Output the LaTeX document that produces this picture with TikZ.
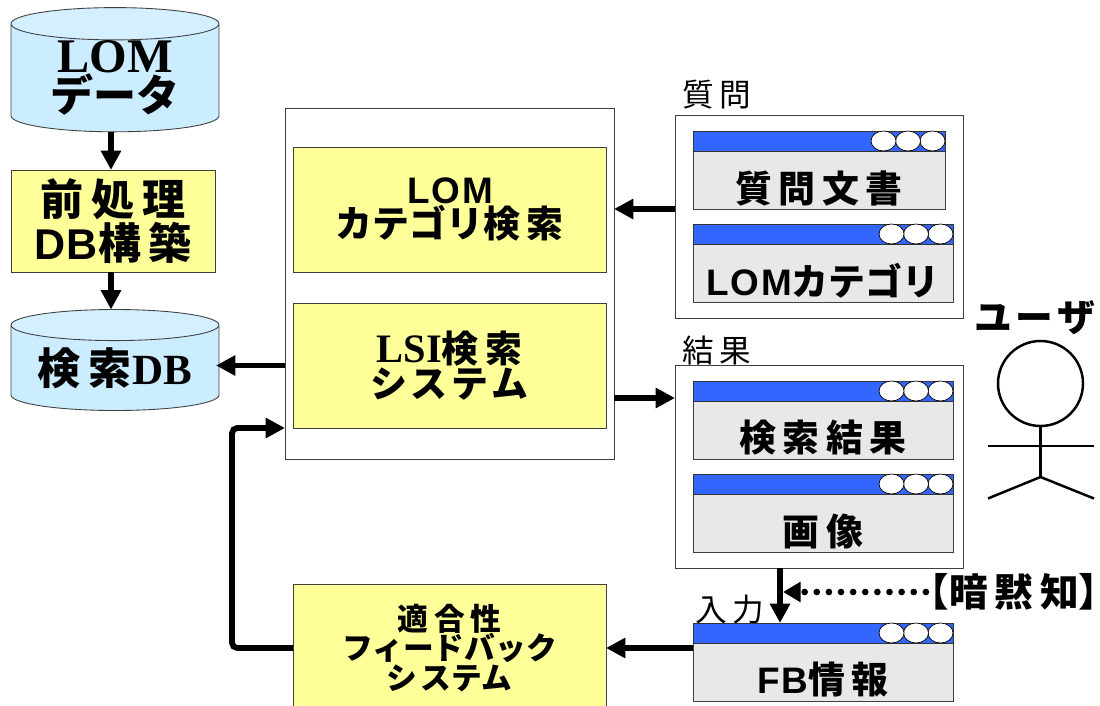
\documentclass[tikz,border=0pt]{standalone}
\usepackage{fontspec}
\setmainfont{Liberation Sans}
\newfontfamily\tms{Liberation Serif}
\newfontfamily\cjk[LetterSpace=18]{Noto Sans CJK JP}
\newfontfamily\kana{Noto Sans CJK JP}
\usetikzlibrary{arrows.meta, shapes.geometric}
\definecolor{dbblue}{HTML}{CCECFF}
\definecolor{sysyellow}{HTML}{FFFF99}
\definecolor{barblue}{HTML}{3366FF}
\definecolor{wingray}{HTML}{E8E8E8}
\definecolor{edgegray}{HTML}{404040}
\tikzset{
  wh/.style 2 args={minimum width=#1*0.02cm, minimum height=#2*0.02cm, inner sep=0pt, outer sep=0pt},
  panel/.style={draw=edgegray, fill=white, line width=0.5pt},
  sysbox/.style={draw=edgegray, fill=sysyellow, line width=0.5pt, align=center},
  dbcyl/.style={draw=edgegray, cylinder, shape border rotate=90, cylinder uses custom fill,
    cylinder body fill=dbblue, cylinder end fill=dbblue!85!white, line width=0.5pt, align=center},
  winbody/.style={draw=edgegray, fill=wingray, line width=0.5pt},
  winbar/.style={draw=black!80, fill=barblue, line width=0.5pt},
  winbtn/.style={draw=black, fill=white, ellipse, line width=0.4pt},
  flow/.style={line width=2.9pt, -{Triangle[length=11pt, width=11pt]}},
  big/.style={font=\fontsize{24.5}{22.5}\selectfont\bfseries},
  mid/.style={font=\fontsize{21}{19}\selectfont\bfseries},
  small/.style={font=\fontsize{17.5}{17}\selectfont\bfseries},
  plain/.style={font=\fontsize{18}{18}\selectfont}
}
\begin{document}
\begin{tikzpicture}[x=0.02cm, y=-0.02cm]
  \useasboundingbox (0, 0) rectangle (1100, 706);
  % left column
  \node[dbcyl, wh={208}{122}, shape aspect=0.25, big] (lomdata) at (115, 78) {{\tms\fontsize{27.5}{24}\selectfont LOM}\\{\kana データ}};
  \node[sysbox, wh={204}{102}, big] (prep) at (113, 221) {{\cjk 前処理}\\D\kern1pt B{\cjk 構築}};
  \node[dbcyl, wh={208}{101}, shape aspect=0.2, big] (searchdb) at (115, 368) {{\cjk 検索}{\tms\kern1pt DB}};
  % search system
  \node[panel, wh={329}{351}] (outer) at (449.5, 283.5) {};
  \node[sysbox, wh={313}{125}, mid] (lomsys) at (449.5, 209.5) {\kern1pt L\kern1pt O\kern1pt M\\{\kana カテゴリ}{\cjk 検索}};
  \node[sysbox, wh={313}{125}, mid] (lsi) at (449.5, 365.5) {{\tms\fontsize{23}{20}\selectfont LSI}{\cjk 検索}\\{\kana シ\kern2pt ス\kern2pt テ\kern2pt ム}};
  \node[sysbox, wh={313}{128}, small] (fbsys) at (449.5, 648) {{\cjk 適合性}\\{\kana フィードバック}\\{\kana シ\kern2pt ステム}};
  % labels above the panels
  \node[plain, inner sep=0pt] (qlabel) at (717, 95) {{\cjk 質問}};
  \node[plain, inner sep=0pt] (rlabel) at (717, 351) {{\cjk 結果}};
  \node[plain, inner sep=0pt] (ilabel) at (730, 610) {{\cjk 入力}};
  % panels and windows
  \node[panel, wh={288}{203}, anchor=north west] (question) at (675, 115) {};
  \node[panel, wh={288}{203}, anchor=north west] (results) at (675, 365) {};
  \foreach \n/\px/\py/\w/\txt in {qdoc/693/131/252/{\cjk 質問文書},
      qcat/693/224/260/{L\kern1pt O\kern1pt M{\kana カテゴリ}},
      rdoc/693/381/260/{\cjk 検索結果},
      rimg/693/474/260/{\cjk 画像},
      fbinfo/693/623/260/{F\kern1pt B{\cjk 情報}}} {
    \node[winbody, wh={\w}{78}, anchor=north west] (\n) at (\px, \py) {};
    \node[winbar, wh={\w}{20}, anchor=north west] (\n-bar) at (\n.north west) {};
    \foreach \k in {0, 1, 2} {
      \node[winbtn, wh={25}{20}, anchor=east] (\n-btn\k) at ([xshift={-\k*0.49cm}]\n-bar.east) {};
    }
    \node[mid, inner sep=0pt] (\n-text) at ([yshift=-0.36cm]\n.center) {\txt};
  }
  % user
  \node[inner sep=0pt, font=\fontsize{21.5}{22}\selectfont\bfseries] (usertext) at (1034, 318) {{\kana\kern1pt ユ\kern2pt ー\kern2pt ザ}};
  \node[circle, draw=black, line width=1.4pt, wh={85}{85}] (head) at (1040.5, 383.5) {};
  \coordinate (hip) at (1040.5, 477);
  \coordinate (handl) at (988, 446);
  \coordinate (handr) at (1094, 446);
  \coordinate (footl) at (988, 498.5);
  \coordinate (footr) at (1094, 498.5);
  \draw[line width=1.4pt] (head.south) -- (hip);
  \draw[line width=1.4pt] (handl) -- (handr);
  \draw[line width=1.4pt] (footl) -- (hip) -- (footr);
  % tacit knowledge
  \node[inner sep=0pt, font=\fontsize{22}{22}\selectfont\bfseries] (tacit) at (1014, 592) {\kern-9pt{\kana【}{\cjk 暗黙知}{\kana】}\kern-9pt};
  \coordinate (tacitin) at (783, 592);
  % connectors
  \draw[flow, line width=3.3pt] ([xshift=-0.04cm]prep.north |- lomdata.south) -- ([xshift=-0.04cm]prep.north);
  \draw[flow, line width=3.3pt] ([xshift=-0.04cm]prep.south) -- ([xshift=-0.04cm]prep.south |- searchdb.north);
  \draw[flow] (outer.west |- lsi.center) -- ([xshift=-0.06cm]searchdb.east |- lsi.center);
  \draw[flow, line width=3.3pt, rounded corners=3pt] (fbsys.west) -- ++(-61, 0) |- (outer.west |- lsi.south);
  \draw[flow] (question.west |- qdoc.south) -- (outer.east |- qdoc.south);
  \draw[flow] ([yshift=0.06cm]outer.east |- rdoc-bar.south) -- ([yshift=0.06cm]results.west |- rdoc-bar.south);
  \draw[flow] ([xshift=-0.78cm]results.south) -- ([xshift=-0.78cm]results.south |- fbinfo.north);
  \draw[flow] (fbinfo.west |- fbsys.center) -- (fbsys.east);
  \draw[line width=3.8pt, line cap=round, dash pattern=on 0pt off 6.9pt, -{Triangle[length=10pt, width=11pt]}] (tacit.west) -- (tacitin);
\end{tikzpicture}
\end{document}
